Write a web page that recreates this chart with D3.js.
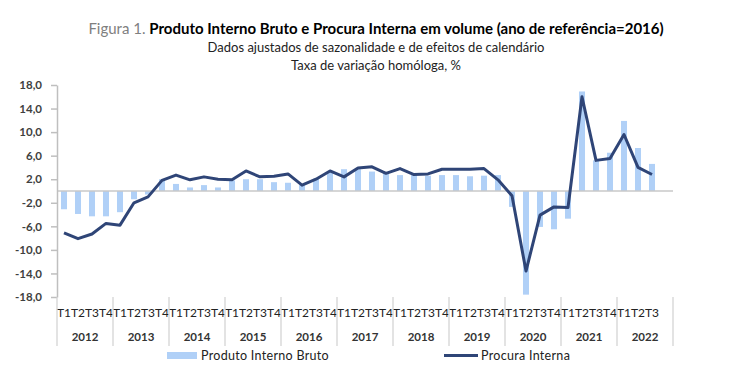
<!DOCTYPE html>
<head>
<meta charset="utf-8">
<style>
body { margin: 0; background: #fff; }
svg text { font-family: Lato, "Open Sans", sans-serif; }
.y-axis .domain, .y-axis .tick line { stroke: #bfbfbf; stroke-width: 1.5px; }
.y-axis .tick text { fill: #404040; font-size: 11.5px; font-weight: bold; }
</style>
</head>
<body>
<script src="https://d3js.org/d3.v7.min.js"></script>
<script>
// chart values
var years = ["2012","2013","2014","2015","2016","2017","2018","2019","2020","2021","2022"];
var quarters = ["T1","T2","T3","T4"];
var yTicks = [-18,-14,-10,-6,-2,2,6,10,14,18];

// Produto Interno Bruto (barras)
var pib = [
  -3.1, -3.9, -4.3, -4.3,
  -3.6, -1.4, -0.6,  2.0,
   1.2,  0.6,  1.0,  0.6,
   1.8,  2.0,  2.0,  1.5,
   1.4,  1.0,  2.1,  3.3,
   3.7,  3.7,  3.3,  3.0,
   2.7,  2.7,  2.6,  2.7,
   2.7,  2.5,  2.6,  2.7,
  -2.7,-17.6, -6.1, -6.5,
  -4.7, 16.9,  5.2,  6.5,
  11.9,  7.3,  4.6
];

// Procura Interna (linha)
var procura = [
  -7.1, -8.1, -7.3, -5.5,
  -5.8, -2.0, -1.0,  1.8,
   2.7,  1.9,  2.4,  2.0,
   1.9,  3.4,  2.4,  2.5,
   2.9,  1.0,  2.0,  3.4,
   2.4,  3.9,  4.1,  3.0,
   3.8,  2.8,  2.9,  3.7,
   3.7,  3.7,  3.8,  1.9,
  -0.8,-13.6, -4.1, -2.7,
  -2.8, 16.0,  5.2,  5.5,
   9.6,  4.0,  2.8
];

var width = 740, height = 389;
var plot = { left: 57, right: 673, top: 85, bottom: 297 };

var svg = d3.select("body").append("svg")
    .attr("width", width)
    .attr("height", height);

// one slot per quarter, 2022 keeps an empty T4 slot
var slots = [];
years.forEach(function (yr) {
  quarters.forEach(function (q) { slots.push(yr + " " + q); });
});

var x = d3.scaleBand()
    .domain(slots)
    .range([plot.left, plot.right])
    .paddingInner(0.57)
    .paddingOuter(0.285);

var y = d3.scaleLinear().domain([-18, 18]).range([plot.bottom, plot.top]);

var locale = d3.formatLocale({ decimal: ",", thousands: ".", grouping: [3], currency: ["", "€"], minus: "-" });
var fmt = locale.format(".1f");

// titles
var title = svg.append("text")
    .attr("x", 376).attr("y", 34)
    .attr("text-anchor", "middle")
    .style("font-size", "15px");
title.append("tspan").attr("fill", "#7f7f7f").text("Figura 1. ");
title.append("tspan").attr("fill", "#000").attr("font-weight", "bold")
    .text("Produto Interno Bruto e Procura Interna em volume (ano de referência=2016)");

svg.append("text")
    .attr("x", 376).attr("y", 52)
    .attr("text-anchor", "middle")
    .style("font-size", "13px").attr("fill", "#222")
    .text("Dados ajustados de sazonalidade e de efeitos de calendário");

svg.append("text")
    .attr("x", 376).attr("y", 70)
    .attr("text-anchor", "middle")
    .style("font-size", "13px").attr("fill", "#222")
    .text("Taxa de variação homóloga, %");

// bars
var data = pib.map(function (v, i) { return { key: slots[i], pib: v, dd: procura[i] }; });

svg.append("g").selectAll("rect")
    .data(data)
  .enter().append("rect")
    .attr("x", function (d) { return x(d.key); })
    .attr("width", x.bandwidth())
    .attr("y", function (d) { return y(Math.max(0, d.pib)); })
    .attr("height", function (d) { return Math.abs(y(d.pib) - y(0)); })
    .attr("fill", "#b0d0f7");

// zero line
svg.append("line")
    .attr("x1", plot.left).attr("x2", plot.right)
    .attr("y1", y(0)).attr("y2", y(0))
    .attr("stroke", "#c9c9c9").attr("stroke-width", 1.5);

// y axis
svg.append("g")
    .attr("class", "y-axis")
    .attr("transform", "translate(" + plot.left + ",0)")
    .call(d3.axisLeft(y).tickValues(yTicks).tickSize(6).tickSizeOuter(0).tickPadding(9).tickFormat(fmt));

// category axis: quarter labels and year separators
var half = x.step() * x.paddingInner() / 2;
var axisG = svg.append("g");

axisG.selectAll("text.q")
    .data(slots.slice(0, pib.length))
  .enter().append("text")
    .attr("class", "q")
    .attr("x", function (d) { return x(d) + x.bandwidth() / 2; })
    .attr("y", 317)
    .attr("text-anchor", "middle")
    .style("font-size", "12px").attr("fill", "#222")
    .text(function (d) { return d.split(" ")[1]; });

axisG.selectAll("text.yr")
    .data(years)
  .enter().append("text")
    .attr("class", "yr")
    .attr("x", function (d) {
      var a = x(d + " T1") - half, b = x(d + " T4") + x.bandwidth() + half;
      return (a + b) / 2;
    })
    .attr("y", 341)
    .attr("text-anchor", "middle")
    .style("font-size", "11.5px").style("font-weight", "bold").attr("fill", "#333")
    .text(function (d) { return d; });

var bounds = years.map(function (d) { return x(d + " T1") - half; });
bounds.push(plot.right);
axisG.selectAll("line")
    .data(bounds)
  .enter().append("line")
    .attr("x1", function (d) { return d; }).attr("x2", function (d) { return d; })
    .attr("y1", plot.bottom).attr("y2", 346)
    .attr("stroke", "#d0d0d0").attr("stroke-width", 1.2);

// line series
var line = d3.line()
    .x(function (d) { return x(d.key) + x.bandwidth() / 2; })
    .y(function (d) { return y(d.dd); });

svg.append("path")
    .datum(data)
    .attr("d", line)
    .attr("fill", "none")
    .attr("stroke", "#2f4577")
    .attr("stroke-width", 3)
    .attr("stroke-linejoin", "round");

// legend
var legend = svg.append("g");
legend.append("rect")
    .attr("x", 167).attr("y", 352).attr("width", 30).attr("height", 7)
    .attr("fill", "#b0d0f7");
legend.append("text")
    .attr("x", 201).attr("y", 360)
    .style("font-size", "12.5px").style("letter-spacing", "0.3px").attr("fill", "#222")
    .text("Produto Interno Bruto");
legend.append("line")
    .attr("x1", 444).attr("x2", 478).attr("y1", 355.5).attr("y2", 355.5)
    .attr("stroke", "#2f4577").attr("stroke-width", 3);
legend.append("text")
    .attr("x", 481).attr("y", 360)
    .style("font-size", "12.5px").style("letter-spacing", "0.3px").attr("fill", "#222")
    .text("Procura Interna");
</script>
</body>
</html>
